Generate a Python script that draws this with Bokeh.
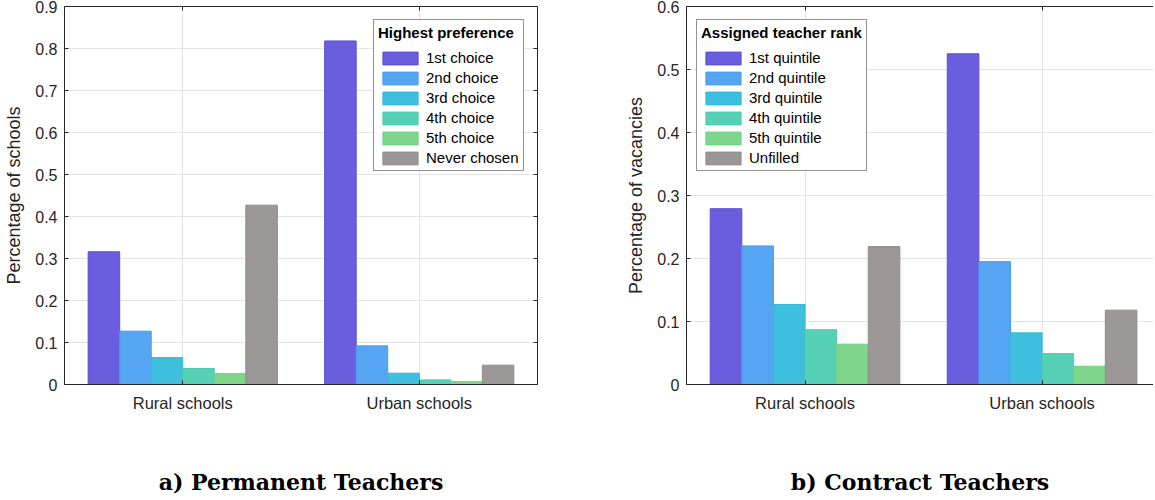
from bokeh.plotting import figure
from bokeh.models import (FixedTicker, CustomJSTickFormatter, Legend, LegendItem,
                          LinearAxis, Range1d, ColumnDataSource)
from bokeh.layouts import row
from bokeh.embed import file_html
from bokeh.resources import INLINE

# ---------------- data ----------------
categories = ["Rural schools", "Urban schools"]

perm_series = ["1st choice", "2nd choice", "3rd choice", "4th choice", "5th choice", "Never chosen"]
perm_rural = [0.316, 0.127, 0.064, 0.038, 0.026, 0.427]
perm_urban = [0.818, 0.092, 0.027, 0.011, 0.007, 0.046]

contract_series = ["1st quintile", "2nd quintile", "3rd quintile", "4th quintile", "5th quintile", "Unfilled"]
contract_rural = [0.279, 0.220, 0.127, 0.087, 0.064, 0.219]
contract_urban = [0.525, 0.195, 0.082, 0.049, 0.029, 0.118]

perm_yticks = [0, 0.1, 0.2, 0.3, 0.4, 0.5, 0.6, 0.7, 0.8, 0.9]
contract_yticks = [0, 0.1, 0.2, 0.3, 0.4, 0.5, 0.6]

captions = ["a) Permanent Teachers", "b) Contract Teachers"]

fill_colors = ["#6a5ede", "#56a5f3", "#3ebfdd", "#57d1b5", "#7ed68b", "#9b9796"]
edge_colors = ["#5a4fdc", "#4a9cf0", "#33b8d8", "#4cc9ad", "#73d181", "#928e8d"]

FONT = "Liberation Sans"
AX = "#262626"
GRID = "#e3e3e3"
FRAME_H = 376  # approximate plotting-area height in px (for the legend separator)


def make_panel(caption, ylabel, series, rural, urban, yticks, legend_title,
               width, border_left, border_right, x_end, legend_loc, box_lr,
               ylabel_standoff, sep_width):
    p = figure(width=width, height=497, output_backend="svg", toolbar_location=None,
               x_range=Range1d(0.5, x_end), y_range=Range1d(yticks[0], yticks[-1]),
               min_border_left=border_left, min_border_right=border_right,
               min_border_top=6, min_border_bottom=10)
    p.outline_line_color = None
    p.background_fill_color = "white"
    p.border_fill_color = "white"

    n = len(series)
    bw = 0.8 / n
    items = []
    for i, lab in enumerate(series):
        off = (i - (n - 1) / 2) * bw
        src = ColumnDataSource(dict(x=[1 + off, 2 + off], top=[rural[i], urban[i]]))
        r = p.vbar(x="x", top="top", bottom=0, width=bw, source=src,
                   fill_color=fill_colors[i], line_color=edge_colors[i], line_width=1)
        items.append(LegendItem(label=lab, renderers=[r]))

    xt = FixedTicker(ticks=[1, 2])
    yt = FixedTicker(ticks=yticks)
    xfmt = CustomJSTickFormatter(args=dict(labels=categories),
                                 code="return labels[Math.round(tick) - 1];")
    yfmt = CustomJSTickFormatter(code="return Number(tick.toFixed(2)).toString();")

    xa = p.xaxis[0]
    xa.ticker = xt
    xa.formatter = xfmt
    xa.major_label_text_font = FONT
    xa.major_label_text_font_size = "16.5px"
    xa.major_label_text_color = AX
    xa.major_label_standoff = 9
    xa.axis_line_color = AX
    xa.major_tick_line_color = AX
    xa.major_tick_in = 4
    xa.major_tick_out = 0
    xa.minor_tick_line_color = None
    xa.axis_label = caption
    xa.axis_label_text_font = "DejaVu Serif"
    xa.axis_label_text_font_size = "22px"
    xa.axis_label_text_font_style = "bold"
    xa.axis_label_text_color = "black"
    xa.axis_label_standoff = 54

    ya = p.yaxis[0]
    ya.ticker = yt
    ya.formatter = yfmt
    ya.major_label_text_font = FONT
    ya.major_label_text_font_size = "16px"
    ya.major_label_text_color = AX
    ya.major_label_standoff = 7
    ya.axis_line_color = AX
    ya.major_tick_line_color = AX
    ya.major_tick_in = 4
    ya.major_tick_out = 0
    ya.minor_tick_line_color = None
    ya.axis_label = ylabel
    ya.axis_label_text_font = FONT
    ya.axis_label_text_font_size = "18px"
    ya.axis_label_text_font_style = "normal"
    ya.axis_label_text_color = AX
    ya.axis_label_standoff = ylabel_standoff

    blank = CustomJSTickFormatter(code="return '';")
    top = LinearAxis(ticker=xt, formatter=blank, major_tick_in=4, major_tick_out=0,
                     minor_tick_line_color=None, axis_line_color=AX,
                     major_tick_line_color=AX, major_label_text_font_size="0px",
                     major_label_standoff=0)
    p.add_layout(top, "above")
    if box_lr:
        right = LinearAxis(ticker=yt, formatter=blank, major_tick_in=4, major_tick_out=0,
                           minor_tick_line_color=None, axis_line_color=AX,
                           major_tick_line_color=AX, major_label_text_font_size="0px",
                           major_label_standoff=0)
        p.add_layout(right, "right")

    p.xgrid.ticker = xt
    p.ygrid.ticker = yt
    p.xgrid.grid_line_color = GRID
    p.ygrid.grid_line_color = GRID

    leg = Legend(items=items, title=legend_title, location=legend_loc,
                 margin=0, padding=4, spacing=3, glyph_width=44, glyph_height=16,
                 label_height=16, label_standoff=4, title_standoff=8,
                 label_text_font=FONT, label_text_font_size="15px", label_text_color="black",
                 title_text_font=FONT, title_text_font_size="15px",
                 title_text_font_style="bold", title_text_color="black",
                 border_line_color=AX, border_line_width=1,
                 background_fill_color="white", background_fill_alpha=1.0)
    p.add_layout(leg)

    # thin separator line under the legend title (decoration, placed in screen px)
    lx, ly = legend_loc
    frame_w = width - border_left - border_right
    sx_per = (x_end - 0.5) / frame_w
    sy_per = (yticks[-1] - yticks[0]) / FRAME_H
    sep_y = (ly + 123) * sy_per
    p.segment(x0=[0.5 + (lx + 1) * sx_per], x1=[0.5 + (lx + sep_width - 1) * sx_per],
              y0=[sep_y], y1=[sep_y], line_color=AX, line_width=1, level="overlay")
    return p


p1 = make_panel(captions[0], "Percentage of schools", perm_series, perm_rural, perm_urban,
                perm_yticks, "Highest preference", width=620, border_left=64,
                border_right=83, x_end=2.5, legend_loc=(309, 213), box_lr=True,
                ylabel_standoff=8, sep_width=151)
p2 = make_panel(captions[1], "Percentage of vacancies", contract_series, contract_rural,
                contract_urban, contract_yticks, "Assigned teacher rank", width=533,
                border_left=66, border_right=0, x_end=2.47, legend_loc=(10, 213),
                box_lr=False, ylabel_standoff=8, sep_width=169)

layout = row(p1, p2)
open("out.html", "w").write(file_html(layout, INLINE))
